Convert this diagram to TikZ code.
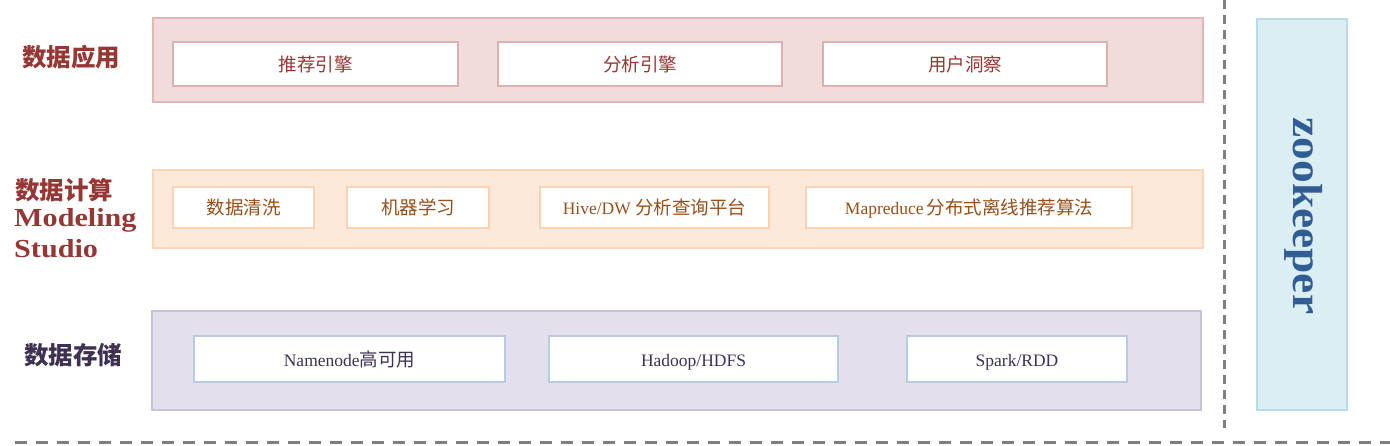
\documentclass[tikz,border=0pt]{standalone}
\usepackage{fontspec}
\setmainfont{Liberation Serif}
\newfontfamily\cjk{Noto Sans CJK SC}
\newfontfamily\wideserif{Liberation Serif}[FakeStretch=1.16]
\newfontfamily\zkserif{Liberation Serif}[FakeStretch=1.08]
\definecolor{pinkfill}{HTML}{F2DCDB}
\definecolor{pinkline}{HTML}{E2B8B7}
\definecolor{pinkin}{HTML}{DDAFAF}
\definecolor{redtxt}{HTML}{953735}
\definecolor{orgfill}{HTML}{FDE9D9}
\definecolor{orgline}{HTML}{FBD5B8}
\definecolor{orgin}{HTML}{F9D2B2}
\definecolor{orgtxt}{HTML}{97501A}
\definecolor{purfill}{HTML}{E4DFEC}
\definecolor{purline}{HTML}{C9C2D8}
\definecolor{purin}{HTML}{B9CBE2}
\definecolor{purtxt}{HTML}{3F3151}
\definecolor{zkfill}{HTML}{DAEEF3}
\definecolor{zkline}{HTML}{B7DDE8}
\definecolor{zktxt}{HTML}{2F5D94}
\definecolor{dashgray}{HTML}{7F7F7F}
\newcommand{\zh}[1]{{\cjk\fontsize{18.5}{22}\selectfont #1}}
\tikzset{
  band/.style={draw=#1line, fill=#1fill, line width=2pt, inner sep=0pt, outer sep=0pt},
  item/.style={draw=#1in, fill=white, line width=2pt, inner sep=0pt, outer sep=0pt, text height=16pt, text depth=2pt, font=\fontsize{17.5}{20}\selectfont},
  lbl/.style={font=\cjk\bfseries\fontsize{24.5}{28}\selectfont, inner sep=0pt},
  enlbl/.style={font=\wideserif\bfseries\fontsize{26}{30}\selectfont, text=redtxt, anchor=west, inner sep=0pt},
  sepline/.style={draw=dashgray, line width=3pt, dash pattern=on 12pt off 9pt},
}
\begin{document}
\begin{tikzpicture}[x=1pt,y=-1pt]
\useasboundingbox (0,0) rectangle (1390,445);
% bands
\node[band=pink, minimum width=1050, minimum height=84] (app) at (678,60) {};
\node[band=org, minimum width=1050, minimum height=78] (comp) at (678,209) {};
\node[band=pur, minimum width=1049, minimum height=99] (stor) at (676.5,360.5) {};
% app items
\node[item=pink, text=redtxt, minimum width=285, minimum height=44] (a1) at (315.5,64) {\zh{推荐引擎}};
\node[item=pink, text=redtxt, minimum width=284, minimum height=44] (a2) at (640,64) {\zh{分析引擎}};
\node[item=pink, text=redtxt, minimum width=284, minimum height=44] (a3) at (965,64) {\zh{用户洞察}};
% compute items
\node[item=org, text=orgtxt, minimum width=141, minimum height=41] (c1) at (243.5,207.5) {\zh{数据清洗}};
\node[item=org, text=orgtxt, minimum width=142, minimum height=41] (c2) at (418,207.5) {\zh{机器学习}};
\node[item=org, text=orgtxt, minimum width=229, minimum height=41] (c3) at (654.5,207.5) {Hive/DW \zh{分析查询平台}};
\node[item=org, text=orgtxt, minimum width=326, minimum height=41] (c4) at (969,207.5) {Mapreduce\,\zh{分布式离线推荐算法}};
% storage items
\node[item=pur, text=purtxt, minimum width=311, minimum height=46] (s1) at (349.5,359) {Namenode\zh{高可用}};
\node[item=pur, text=purtxt, minimum width=289, minimum height=46] (s2) at (693.5,359) {Hadoop/HDFS};
\node[item=pur, text=purtxt, minimum width=220, minimum height=46] (s3) at (1017,359) {Spark/RDD};
% left labels
\node[lbl, text=redtxt] (l1) at (71,57) {数据应用};
\node[lbl, text=redtxt, anchor=west] (l2) at (15,190) {数据计算};
\node[enlbl] (l3) at (14,220) {Modeling};
\node[enlbl] (l4) at (14,249) {Studio};
\node[lbl, text=purtxt] (l5) at (73,355) {数据存储};
% zookeeper
\node[draw=zkline, fill=zkfill, line width=2pt, minimum width=90, minimum height=391, inner sep=0pt] (zk) at (1302,214.5) {};
\node[rotate=-90, font=\zkserif\bfseries\fontsize{42}{48}\selectfont, text=zktxt, inner sep=0pt] (zkt) at (1304,216) {zookeeper};
% separators
\coordinate (vt) at (1224,0);
\coordinate (vb) at (1224,428);
\coordinate (hl) at (15,442);
\coordinate (hr) at (1390,442);
\draw[sepline, dash pattern=on 9pt off 6pt] (vt) -- (vb);
\draw[sepline] (hl) -- (hr);
\end{tikzpicture}
\end{document}
